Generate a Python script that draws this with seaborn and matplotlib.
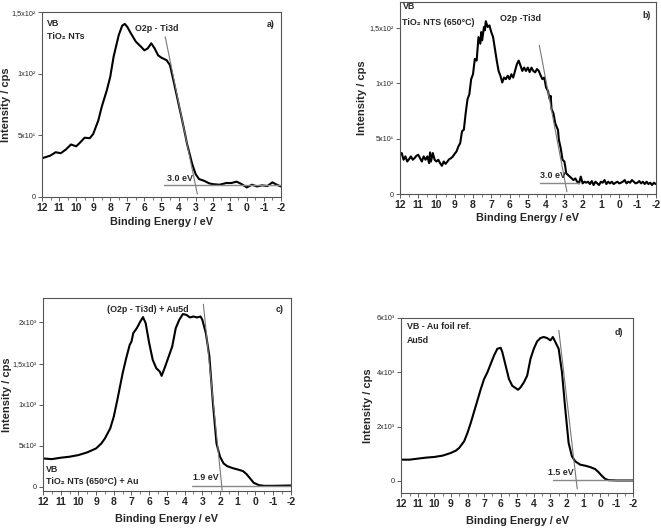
import numpy as np
import pandas as pd
import matplotlib
matplotlib.use("Agg")
import matplotlib.pyplot as plt
import seaborn as sns

# a) TiO2 NTs
be_a = [12.0, 11.5, 11.2, 10.9, 10.6, 10.3, 10.0, 9.8, 9.5, 9.2, 9.0, 8.7, 8.5, 8.2, 8.0, 7.8,
        7.5, 7.3, 7.15, 7.0, 6.8, 6.5, 6.2, 6.0, 5.8, 5.6, 5.4, 5.2, 5.0, 4.7, 4.5, 4.3, 4.0,
        3.7, 3.5, 3.2, 3.0, 2.8, 2.5, 2.2, 2.0, 1.6, 1.2, 0.9, 0.6, 0.3, 0.0, -0.3, -0.6,
        -0.9, -1.2, -1.5, -1.8, -2.0]
int_a = [31.3, 33.5, 36.2, 35.4, 38.4, 42.5, 41.0, 43.6, 48.0, 47.6, 51.0, 62.0, 73.0, 86.6,
         97.5, 114.0, 131.5, 139.0, 140.5, 138.0, 133.0, 126.0, 122.0, 119.0, 120.6, 124.7,
         120.6, 115.0, 113.0, 111.0, 107.0, 94.7, 75.7, 56.6, 43.0, 26.7, 18.5, 14.4, 13.0,
         10.9, 10.3, 9.8, 11.2, 11.2, 12.3, 10.3, 7.6, 9.8, 8.4, 9.3, 8.7, 11.7, 9.5, 8.4]

# b) TiO2 NTs (650 C)
be_b = [12.0, 11.9, 11.8, 11.7, 11.6, 11.5, 11.4, 11.3, 11.2, 11.1, 11.0, 10.9, 10.8, 10.7,
        10.6, 10.5, 10.4, 10.35, 10.3, 10.2, 10.1, 10.0, 9.9, 9.8, 9.7, 9.6, 9.5, 9.4, 9.3,
        9.2, 9.1, 9.0, 8.9, 8.8, 8.7, 8.6, 8.5, 8.4, 8.3, 8.2, 8.1, 8.0, 7.9, 7.8, 7.7, 7.6,
        7.55, 7.5, 7.4, 7.35, 7.3, 7.2, 7.1, 7.0, 6.9, 6.8, 6.7, 6.6, 6.5, 6.4, 6.3, 6.2,
        6.1, 6.0, 5.9, 5.8, 5.7, 5.6, 5.5, 5.4, 5.3, 5.2, 5.1, 5.0, 4.9, 4.8, 4.7, 4.6, 4.5,
        4.4, 4.3, 4.2, 4.1, 4.0, 3.9, 3.8, 3.75, 3.7, 3.6, 3.5, 3.4, 3.35, 3.3, 3.2, 3.1,
        3.0, 2.95, 2.9, 2.8, 2.7, 2.6, 2.5, 2.4, 2.3, 2.2, 2.1, 2.0, 1.9, 1.8, 1.7, 1.6,
        1.5, 1.4, 1.3, 1.2, 1.1, 1.0, 0.9, 0.8, 0.7, 0.6, 0.5, 0.4, 0.3, 0.2, 0.1, 0.0,
        -0.1, -0.2, -0.3, -0.4, -0.5, -0.6, -0.7, -0.8, -0.9, -1.0, -1.1, -1.2, -1.3, -1.4,
        -1.5, -1.6, -1.7, -1.8, -1.9, -2.0]
int_b = [35.5, 37.0, 31.0, 34.0, 29.4, 31.5, 34.0, 31.0, 32.4, 34.5, 35.5, 32.4, 29.4, 34.0,
         31.0, 34.0, 27.9, 37.6, 29.4, 37.0, 31.0, 29.4, 31.0, 27.9, 25.5, 29.4, 27.3, 29.4,
         31.5, 32.4, 34.0, 36.4, 38.5, 43.0, 46.0, 56.7, 58.0, 73.0, 85.5, 90.0, 103.6, 108.0,
         121.8, 120.3, 141.5, 135.5, 146.0, 138.5, 150.6, 147.6, 155.8, 150.6, 152.0, 146.0,
         141.5, 131.0, 120.3, 111.0, 106.7, 100.6, 105.0, 103.6, 106.7, 103.6, 108.0, 105.0,
         111.0, 117.0, 120.3, 115.8, 111.0, 114.0, 111.0, 114.0, 110.0, 114.0, 111.0, 109.7,
         112.7, 111.0, 107.0, 103.6, 105.0, 96.0, 93.0, 85.5, 88.5, 76.4, 73.0, 64.0, 59.7,
         58.0, 49.0, 41.5, 31.0, 29.4, 24.8, 18.8, 17.3, 15.8, 14.2, 12.7, 14.2, 11.2, 9.7,
         15.8, 9.7, 11.2, 10.3, 11.2, 9.1, 11.8, 8.2, 11.2, 9.7, 8.2, 11.2, 10.3, 12.7, 9.1,
         11.2, 9.7, 11.2, 9.1, 10.3, 11.2, 9.7, 10.3, 11.2, 12.7, 9.7, 11.2, 10.3, 12.7, 11.2,
         9.7, 10.3, 11.8, 9.7, 11.2, 9.1, 11.2, 9.1, 10.3, 8.2, 10.3, 9.1]

# c) TiO2 NTs (650 C) + Au
be_c = [12.0, 11.5, 11.0, 10.5, 10.0, 9.5, 9.0, 8.7, 8.5, 8.2, 8.0, 7.8, 7.5, 7.3, 7.1, 7.0,
        6.9, 6.7, 6.5, 6.35, 6.2, 6.0, 5.8, 5.6, 5.4, 5.3, 5.1, 4.9, 4.7, 4.5, 4.3, 4.1, 3.9,
        3.7, 3.5, 3.3, 3.1, 3.0, 2.8, 2.6, 2.4, 2.2, 2.0, 1.8, 1.6, 1.3, 1.0, 0.7, 0.5, 0.3,
        0.1, -0.2, -0.5, -1.0, -2.0]
int_c = [345, 337, 354, 366, 386, 419, 467, 528, 589, 711, 854, 1057, 1382, 1565, 1728, 1768,
         1870, 1931, 2012, 2065, 1992, 1748, 1545, 1443, 1402, 1350, 1463, 1585, 1707, 1931,
         2033, 2102, 2093, 2061, 2073, 2061, 2073, 2033, 1870, 1585, 1016, 528, 366, 285, 252,
         228, 211, 191, 154, 102, 49, 20, 12, 12, 16]

# d) Au foil reference
be_d = [12.0, 11.5, 11.0, 10.5, 10.0, 9.5, 9.0, 8.7, 8.5, 8.2, 8.0, 7.8, 7.5, 7.2, 7.0, 6.8,
        6.6, 6.4, 6.2, 6.0, 5.9, 5.7, 5.5, 5.3, 5.1, 4.95, 4.8, 4.6, 4.4, 4.2, 4.0, 3.8, 3.6,
        3.4, 3.2, 3.0, 2.85, 2.7, 2.5, 2.3, 2.1, 1.9, 1.7, 1.5, 1.2, 0.9, 0.6, 0.3, 0.1, -0.1,
        -0.3, -0.5, -1.0, -2.0]
int_d = [779, 779, 817, 854, 879, 928, 1027, 1114, 1213, 1460, 1770, 2141, 2760, 3379, 3750,
         3997, 4307, 4616, 4864, 4901, 4740, 4245, 3750, 3502, 3416, 3354, 3441, 3626, 3874,
         4493, 4864, 5136, 5260, 5297, 5260, 5173, 5297, 5111, 4864, 3997, 2636, 1398, 903,
         718, 594, 557, 507, 433, 322, 186, 74, 25, 12, 12]

# tangent lines (x0, y0, x1, y1) and baselines (x0, x1, y)
tangent_a = [4.78, 130, 2.9, 2.2]
base_a = [4.84, -2.0, 9.3]
tangent_b = [4.37, 134, 2.86, 2.1]
base_b = [4.33, 2.2, 9.7]
tangent_c = [2.94, 2223, 1.88, -41]
base_c = [3.6, -2.0, 12]
tangent_d = [2.49, 5544, 1.38, -297]
base_d = [2.83, -2.0, 25]

gap_labels = ["3.0 eV", "3.0 eV", "1.9 eV", "1.5 eV"]

ticks_a = [0, 50, 100, 150]
ticklab_a = ["0", "5x10¹", "1x10²", "1,5x10²"]
ticks_b = [0, 50, 100, 150]
ticklab_b = ["0", "5x10¹", "1x10²", "1,5x10²"]
ticks_c = [0, 500, 1000, 1500, 2000]
ticklab_c = ["0", "5x10²", "1x10³", "1,5x10³", "2x10³"]
ticks_d = [0, 2000, 4000, 6000]
ticklab_d = ["0", "2x10³", "4x10³", "6x10³"]

xticks = list(range(12, -3, -1))

sns.set_style("ticks")
plt.rcParams['font.family'] = ['Liberation Sans', 'DejaVu Sans']

fig = plt.figure(figsize=(6.61, 5.29), dpi=100)
ax_a = fig.add_axes([0.0635, 0.628, 0.3615, 0.349])
ax_b = fig.add_axes([0.605, 0.633, 0.387, 0.363])
ax_c = fig.add_axes([0.065, 0.072, 0.375, 0.365])
ax_d = fig.add_axes([0.607, 0.068, 0.351, 0.331])

# last two entries: label coords (ylabel x, xlabel y) in axes fraction
panels = [
    (ax_a, be_a, int_a, tangent_a, base_a, ticks_a, ticklab_a, (0, 150), -0.128, -0.11),
    (ax_b, be_b, int_b, tangent_b, base_b, ticks_b, ticklab_b, (0, 173), -0.13, -0.10),
    (ax_c, be_c, int_c, tangent_c, base_c, ticks_c, ticklab_c, (-50, 2300), -0.124, -0.121),
    (ax_d, be_d, int_d, tangent_d, base_d, ticks_d, ticklab_d, (-450, 6000), -0.12, -0.133),
]

for ax, x, y, tan, base, yt, ytl, ylim, ylab_x, xlab_y in panels:
    df = pd.DataFrame({"be": x, "cps": y})
    sns.lineplot(data=df, x="be", y="cps", ax=ax, color="black", lw=1.5,
                 sort=False, estimator=None)
    sns.lineplot(x=[tan[0], tan[2]], y=[tan[1], tan[3]], ax=ax, color="#777777",
                 lw=0.8, sort=False, estimator=None)
    sns.lineplot(x=[base[0], base[1]], y=[base[2], base[2]], ax=ax, color="#888888",
                 lw=1.0, sort=False, estimator=None)
    ax.set_xlim(12, -2)
    ax.set_ylim(*ylim)
    ax.set_xticks(xticks)
    ax.set_xticklabels([str(t) for t in xticks], fontsize=7.5, fontweight="bold")
    ax.set_xticks(np.arange(11.5, -2, -1.0), minor=True)
    ax.set_yticks(yt)
    ax.set_yticklabels(ytl, fontsize=5.2)
    ax.tick_params(axis="both", which="major", length=3, width=0.6, color="#444444", pad=1.5)
    ax.tick_params(axis="x", which="minor", length=2, width=0.5, color="#444444")
    ax.set_xlabel("Binding Energy / eV", fontsize=7.8, fontweight="bold")
    ax.set_ylabel("Intensity / cps", fontsize=8.0, fontweight="bold")
    ax.xaxis.set_label_coords(0.5, xlab_y)
    ax.yaxis.set_label_coords(ylab_x, 0.5)
    for s in ax.spines.values():
        s.set_visible(True)
        s.set_linewidth(0.8)
        s.set_color("#555555")

tkw = dict(fontsize=6.4, fontweight="bold")

ax_a.text(0.02, 0.965, "VB", transform=ax_a.transAxes, va="top", **tkw)
ax_a.text(0.02, 0.895, "TiO₂ NTs", transform=ax_a.transAxes, va="top", **tkw)
ax_a.text(0.975, 0.955, "a)", transform=ax_a.transAxes, va="top", ha="right", **tkw)
ax_a.text(5.3, 133, "O2p - Ti3d", ha="center", va="bottom", **tkw)
ax_a.text(4.7, 11.5, gap_labels[0], ha="left", va="bottom", **tkw)

ax_b.text(0.01, 1.0, "VB", transform=ax_b.transAxes, va="top", **tkw)
ax_b.text(0.01, 0.915, "TiO₂ NTS (650°C)", transform=ax_b.transAxes, va="top", **tkw)
ax_b.text(0.98, 0.955, "b)", transform=ax_b.transAxes, va="top", ha="right", **tkw)
ax_b.text(5.4, 154, "O2p -Ti3d", ha="center", va="bottom", **tkw)
ax_b.text(4.35, 12.5, gap_labels[1], ha="left", va="bottom", **tkw)

ax_c.text(0.425, 0.965, "(O2p - Ti3d) + Au5d", transform=ax_c.transAxes, va="top",
          ha="center", **tkw)
ax_c.text(0.97, 0.965, "c)", transform=ax_c.transAxes, va="top", ha="right", **tkw)
ax_c.text(0.012, 0.135, "VB", transform=ax_c.transAxes, va="top", **tkw)
ax_c.text(0.012, 0.072, "TiO₂ NTs (650°C) + Au", transform=ax_c.transAxes, va="top", **tkw)
ax_c.text(3.55, 60, gap_labels[2], ha="left", va="bottom", **tkw)

ax_d.text(0.026, 0.975, "VB - Au foil ref.", transform=ax_d.transAxes, va="top", **tkw)
ax_d.text(0.026, 0.895, "Au5d", transform=ax_d.transAxes, va="top", **tkw)
ax_d.text(0.957, 0.94, "d)", transform=ax_d.transAxes, va="top", ha="right", **tkw)
ax_d.text(3.15, 150, gap_labels[3], ha="left", va="bottom", **tkw)

plt.savefig("out.png", dpi=100)
